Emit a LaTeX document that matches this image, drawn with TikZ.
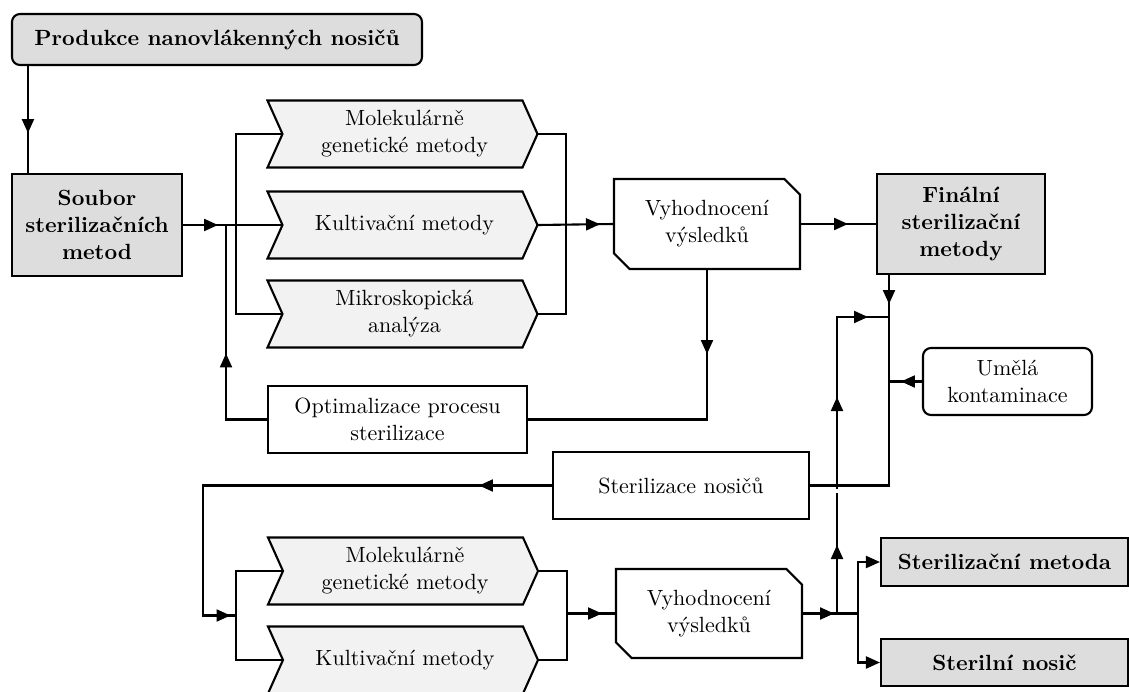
\documentclass[tikz,border=0pt]{standalone}
\usepackage{fontspec}
\setmainfont{lmroman10-regular}[Extension=.otf, BoldFont=lmroman10-bold, ItalicFont=lmroman10-italic]
\usetikzlibrary{arrows.meta,shapes.misc,decorations.markings}
\definecolor{boxgray}{HTML}{DDDDDD}
\definecolor{chevgray}{HTML}{F2F2F2}
\tikzset{
  every node/.style={font=\fontsize{22}{27}\selectfont, align=center, inner sep=0pt},
  ln/.style={line width=2.1pt},
  wbox/.style={draw, line width=2.1pt, fill=white},
  gbox/.style={draw, line width=2.1pt, fill=boxgray, font=\fontsize{22}{27}\selectfont\bfseries},
  rbox/.style={draw, line width=2.1pt, rounded corners=8pt},
  chbox/.style={draw, line width=2.1pt, chamfered rectangle, chamfered rectangle corners={north east, south west}, chamfered rectangle xsep=7.8pt, chamfered rectangle ysep=7.8pt},
  tipat/.style={postaction={decorate, decoration={markings, mark=at position #1 with {\arrow{Triangle[length=14pt,width=12pt]}}}}},
  endtip/.style={-{Triangle[length=14pt,width=12pt]}},
  chev/.pic={\draw[line width=2.1pt, fill=chevgray] (-135,-33.5) -- (120,-33.5) -- (135,0) -- (120,33.5) -- (-135,33.5) -- (-120,0) -- cycle;
     \coordinate (-w) at (-120,0); \coordinate (-e) at (135,0);
     \node (-t) at (2,0) {#1};}
}
\begin{document}
\begin{tikzpicture}[x=1pt,y=-1pt]
\useasboundingbox (0,0) rectangle (1129,691);
\clip (0,0) rectangle (1129,691);
% nodes
\node[rbox, fill=boxgray, font=\fontsize{22}{27}\selectfont\bfseries, minimum width=410pt, minimum height=51pt] (p) at (217,39.5) {Produkce nanovlákenných nosičů};
\node[gbox, minimum width=170pt, minimum height=102pt] (s) at (97,225) {Soubor\\sterilizačních\\metod};
\pic (c1) at (402.5,134) {chev={Molekulárně\\genetické metody}};
\pic (c2) at (402.5,225) {chev={Kultivační metody}};
\pic (c3) at (402.5,314) {chev={Mikroskopická\\analýza}};
\node[chbox, minimum width=186pt, minimum height=90pt] (v1) at (707,224) {Vyhodnocení\\výsledků};
\node[gbox, minimum width=168pt, minimum height=100pt] (f) at (961,224) {Finální\\sterilizační\\metody};
\node[wbox, minimum width=259pt, minimum height=67pt] (o) at (397.5,419.5) {Optimalizace procesu\\sterilizace};
\node[rbox, minimum width=169pt, minimum height=67pt] (u) at (1007.5,381.5) {Umělá\\kontaminace};
\node[wbox, minimum width=256pt, minimum height=67pt] (sn) at (681,485.5) {Sterilizace nosičů};
\pic (c4) at (403,571) {chev={Molekulárně\\genetické metody}};
\pic (c5) at (403,660) {chev={Kultivační metody}};
\node[chbox, minimum width=186pt, minimum height=89pt] (v2) at (709,613.5) {Vyhodnocení\\výsledků};
\node[gbox, minimum width=247pt, minimum height=48pt] (sm) at (1004.5,562) {Sterilizační metoda};
\node[gbox, minimum width=247pt, minimum height=47pt] (snos) at (1004.5,662.5) {Sterilní nosič};
% helper coordinates
\coordinate (lbus) at (236,0);
\coordinate (fb) at (226,0);
\coordinate (rbus) at (566,0);
\coordinate (rbus2) at (567,0);
\coordinate (rv) at (889,0);
\coordinate (ll) at (203,0);
\coordinate (j2) at (236,615.5);
\coordinate (j3) at (858,613.5);
\coordinate (j4) at (837,613.5);
\coordinate (j5) at (889,317);
% connectors
\draw[ln, tipat=67pt] ([xshift=17pt]p.south west) -- ([xshift=17pt]s.north west);
\draw[ln, tipat=35pt] (s.east) -- (c2-w);
\draw[ln] (c1-w) -- (c1-w -| lbus) -- (c3-w -| lbus) -- (c3-w);
\draw[ln] (c1-e) -- (c1-e -| rbus) -- (c3-e -| rbus) -- (c3-e);
\draw[ln, tipat=62.5pt] (c2-e) -- (v1.west);
\draw[ln, tipat=47pt] (v1.east) -- (f.west);
\draw[ln, tipat=84pt] (v1.south) -- (v1.south |- o.east) -- (o.east);
\draw[ln, tipat=107pt] (o.west) -- (fb |- o.west) -- (fb |- s.east);
\draw[ln, tipat=68.5pt, tipat=216.5pt, tipat=327.5pt] (j4) -- (j4 |- j5) -- (j5);
\fill[white] (834.5,489) rectangle (839.5,493);
\draw[ln, tipat=29pt] (f.south -| rv) -- (rv |- sn.east) -- (sn.east);
\draw[ln, tipat=21pt] (u.west) -- (u.west -| rv);
\draw[ln, tipat=73pt, tipat=506.5pt] (sn.west) -- (sn.west -| ll) -- (ll |- j2) -- (j2);
\draw[ln] (c4-w) -- (c4-w -| lbus) -- (c5-w -| lbus) -- (c5-w);
\draw[ln] (c4-e) -- (c4-e -| rbus2) -- (c5-e -| rbus2) -- (c5-e);
\draw[ln, tipat=35pt] (rbus2 |- v2.west) -- (v2.west);
\draw[ln, tipat=31pt] (v2.east) -- (j3);
\draw[ln, endtip] (j3) |- (sm.west);
\draw[ln, endtip] (j3) |- (snos.west);
\end{tikzpicture}
\end{document}
